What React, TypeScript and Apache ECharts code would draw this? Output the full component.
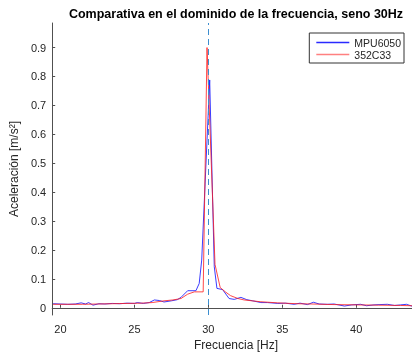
import React, { useEffect, useRef } from "react";
import * as echarts from "echarts";

const titleText = "Comparativa en el dominido de la frecuencia, seno 30Hz";
const xLabel = "Frecuencia [Hz]";
const yLabel = "Aceleración [m/s²]";
const seriesNames = ["MPU6050", "352C33"];

const xTicks = [20, 25, 30, 35, 40];
const yTicks = [0, 0.1, 0.2, 0.3, 0.4, 0.5, 0.6, 0.7, 0.8, 0.9];
const markerFreq = 30;

const mpuFreq = [
  19.5, 20.0, 20.5, 21.0, 21.4, 21.7, 21.9, 22.2, 22.6, 23.0, 23.5, 24.0, 24.5, 25.0, 25.2, 25.6,
  26.0, 26.35, 26.7, 27.0, 27.5, 27.9, 28.15, 28.6, 29.16, 29.38, 29.55, 30.09, 30.4, 30.58, 30.96,
  31.4, 31.75, 32.2, 32.6, 33.0, 33.55, 34.0, 34.7, 35.2, 35.8, 36.2, 36.7, 37.1, 37.5, 38.04, 38.5,
  39.2, 39.7, 40.3, 40.7, 41.2, 41.6, 42.1, 42.6, 43.0, 43.4, 43.8,
];
const mpuVals = [
  0.014, 0.013, 0.012, 0.013, 0.017, 0.013, 0.018, 0.009, 0.014, 0.013, 0.015, 0.014, 0.016, 0.015, 0.018, 0.015,
  0.018, 0.027, 0.025, 0.02, 0.024, 0.028, 0.036, 0.059, 0.059, 0.084, 0.165, 0.788, 0.142, 0.067, 0.063,
  0.032, 0.029, 0.036, 0.028, 0.024, 0.018, 0.018, 0.015, 0.016, 0.012, 0.016, 0.011, 0.019, 0.013, 0.012, 0.013,
  0.006, 0.01, 0.012, 0.007, 0.01, 0.011, 0.012, 0.008, 0.01, 0.012, 0.005,
];

const pcbFreq = [
  19.5, 20.5, 21.5, 22.5, 23.5, 24.5, 25.5, 26.2, 27.0, 27.6, 28.15, 28.6, 29.05, 29.65, 29.91,
  30.45, 30.8, 31.15, 31.5, 32.0, 32.42, 33.5, 34.67, 36.0, 37.0, 38.5, 40.0, 41.5, 43.0, 43.8,
];
const pcbVals = [
  0.012, 0.012, 0.012, 0.013, 0.014, 0.015, 0.016, 0.018, 0.024, 0.027, 0.032, 0.047, 0.055, 0.055, 0.9,
  0.15, 0.07, 0.055, 0.042, 0.032, 0.027, 0.021, 0.017, 0.014, 0.013, 0.011, 0.01, 0.009, 0.008, 0.007,
];

const FONT = "'Liberation Sans', Arial, Helvetica, sans-serif";
const AXIS = "#505050";
const BLUE = "#1a1aff";
const RED = "#ff1a1a";
const DASH = "#3d8ed0";

export default function App() {
  const ref = useRef<HTMLDivElement>(null);
  useEffect(() => {
    if (!ref.current) return;
    const chart = echarts.init(ref.current, null, { renderer: "svg" });
    const zip = (f: number[], v: number[]) => f.map((x, i) => [x, v[i]]);
    chart.setOption({
      animation: false,
      textStyle: { fontFamily: FONT },
      grid: { left: 51, right: 0, top: 23, bottom: 43 },
      legend: {
        data: [
          { name: seriesNames[0], icon: "rect", itemStyle: { color: "#2a2aff" } },
          { name: seriesNames[1], icon: "rect", itemStyle: { color: "#ff8080" } },
        ],
        orient: "vertical",
        right: 8,
        top: 33,
        backgroundColor: "#fff",
        borderColor: "#333",
        borderWidth: 1,
        borderRadius: 0,
        padding: [4, 3, 3, 7],
        itemWidth: 33,
        itemHeight: 1.5,
        itemGap: 1,
        textStyle: { fontSize: 10.5, color: "#262626", fontFamily: FONT },
      },
      xAxis: {
        type: "value",
        min: 19.44,
        max: 43.77,
        axisLine: { show: true, lineStyle: { color: AXIS, width: 1 } },
        axisTick: { show: true, inside: true, length: 3, customValues: xTicks, lineStyle: { color: AXIS } },
        axisLabel: { customValues: xTicks, fontSize: 11, color: "#262626", margin: 8, fontFamily: FONT },
        splitLine: { show: false },
      },
      yAxis: {
        type: "value",
        min: -0.025,
        max: 0.985,
        axisLine: { show: true, lineStyle: { color: AXIS, width: 1 } },
        axisTick: { show: true, inside: true, length: 3, customValues: yTicks, lineStyle: { color: AXIS } },
        axisLabel: {
          customValues: yTicks,
          fontSize: 11,
          color: "#262626",
          margin: 6,
          fontFamily: FONT,
          formatter: (v: number) => String(Math.round(v * 10) / 10),
        },
        splitLine: { show: false },
        name: yLabel,
        nameLocation: "middle",
        nameRotate: 90,
        nameGap: 31,
        nameTextStyle: { fontSize: 12, color: "#262626", fontFamily: FONT },
      },
      graphic: [
        {
          type: "text",
          x: 236,
          y: 14,
          style: {
            text: titleText,
            fontSize: 12.5,
            fontWeight: "bold",
            fill: "#000",
            align: "center",
            verticalAlign: "middle",
            fontFamily: FONT,
          },
        },
        {
          type: "text",
          x: 236,
          y: 345,
          style: {
            text: xLabel,
            fontSize: 12,
            fill: "#262626",
            align: "center",
            verticalAlign: "middle",
            fontFamily: FONT,
          },
        },
      ],
      series: [
        {
          name: seriesNames[0],
          type: "line",
          data: zip(mpuFreq, mpuVals),
          symbol: "none",
          lineStyle: { color: BLUE, width: 1, opacity: 0.85 },
          itemStyle: { color: BLUE },
          z: 2,
        },
        {
          name: seriesNames[1],
          type: "line",
          data: zip(pcbFreq, pcbVals),
          symbol: "none",
          lineStyle: { color: RED, width: 1, opacity: 0.8 },
          itemStyle: { color: RED },
          z: 3,
          markLine: {
            silent: true,
            symbol: "none",
            label: { show: false },
            lineStyle: { color: DASH, width: 1, type: [6, 4], opacity: 1 },
            data: [{ xAxis: markerFreq, lineStyle: { color: DASH, width: 1, type: [6, 4] } }],
          },
        },
      ],
    });
    return () => chart.dispose();
  }, []);
  return <div ref={ref} style={{ position: "fixed", left: 0, top: 0, width: 412, height: 358 }} />;
}
